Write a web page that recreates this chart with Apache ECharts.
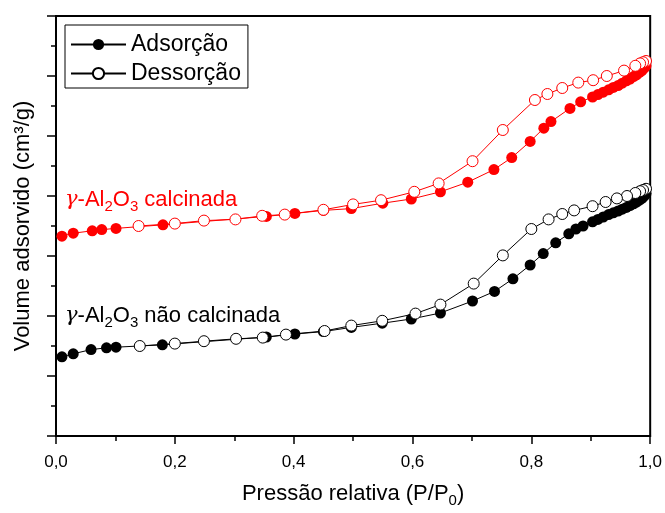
<!DOCTYPE html>
<html>
<head>
<meta charset="utf-8">
<script src="https://cdn.jsdelivr.net/npm/echarts@6/dist/echarts.min.js"></script>
<style>
  html, body { margin: 0; padding: 0; background: #fff; }
  #chart { width: 665px; height: 513px; }
</style>
</head>
<body>
<div id="chart"></div>
<script>
// N2 isotherms of gamma-alumina, calcined (red) and non-calcined (black)
// Relative pressure P/P0 and adsorbed volume (cm3/g)

const calcAdsP = [0.010, 0.029, 0.061, 0.077, 0.101, 0.180, 0.354, 0.402, 0.450, 0.497, 0.550, 0.598, 0.647, 0.693, 0.737, 0.767, 0.798, 0.821, 0.833, 0.865, 0.883, 0.903, 0.912, 0.921, 0.930, 0.938, 0.946, 0.953, 0.960, 0.966, 0.972, 0.977, 0.982, 0.986, 0.990, 0.993];
const calcAdsV = [166.5, 169, 171, 172, 173, 176, 183, 185.5, 188, 189.5, 194, 197.5, 203.5, 211.5, 222, 232, 245.5, 256.5, 262, 273, 278.5, 282.5, 284.5, 286.5, 288.5, 290.5, 292, 294, 296, 297.5, 299.5, 301, 303, 304.5, 306.5, 308.5];

const calcDesP = [0.993, 0.988, 0.983, 0.975, 0.956, 0.927, 0.904, 0.879, 0.852, 0.827, 0.806, 0.752, 0.701, 0.644, 0.603, 0.547, 0.500, 0.450, 0.385, 0.347, 0.302, 0.249, 0.200, 0.139];
const calcDesV = [312.5, 311.5, 310.5, 308.5, 304.5, 300, 296.5, 294.5, 290, 285, 280, 255, 229, 210.5, 203.5, 196.5, 193, 188.5, 184.5, 183.5, 180.5, 179.5, 177, 175];

const rawAdsP = [0.010, 0.029, 0.059, 0.085, 0.101, 0.179, 0.354, 0.402, 0.450, 0.497, 0.549, 0.598, 0.647, 0.701, 0.738, 0.769, 0.798, 0.820, 0.841, 0.863, 0.875, 0.887, 0.903, 0.912, 0.921, 0.930, 0.938, 0.946, 0.953, 0.960, 0.966, 0.972, 0.977, 0.982, 0.986, 0.990, 0.993];
const rawAdsV = [66, 68.5, 72, 73.5, 74, 76, 82.5, 85, 87, 90.5, 94, 97.5, 102.5, 112.5, 120.5, 131, 142.5, 152, 161, 168.5, 172.5, 175, 178.5, 180.5, 182.5, 184.5, 186, 187.5, 189, 190.5, 192, 193.5, 195, 196.5, 198, 200, 202];

const rawDesP = [0.993, 0.988, 0.983, 0.975, 0.961, 0.944, 0.925, 0.903, 0.872, 0.852, 0.829, 0.800, 0.752, 0.703, 0.647, 0.605, 0.549, 0.497, 0.452, 0.387, 0.348, 0.303, 0.249, 0.200, 0.141];
const rawDesV = [206, 205, 204, 202.5, 200, 198, 195, 191.5, 188, 185, 180.5, 172.5, 150.5, 127, 109.5, 102, 96, 92, 87.5, 84.5, 82, 81, 79, 77, 75];

const xTicks = [0, 0.2, 0.4, 0.6, 0.8, 1.0];

const zip = (p, v) => p.map((x, i) => [x, v[i]]);
const FONT = '"Liberation Sans", Arial, sans-serif';
const NARROW = '"Liberation Sans Narrow", "Liberation Sans", Arial, sans-serif';

function isoSeries(name, data, color, open) {
  return {
    name: name,
    type: 'line',
    data: data,
    symbol: 'circle',
    symbolSize: 11,
    showSymbol: true,
    z: open ? 3 : 2,
    lineStyle: { color: color, width: 1 },
    itemStyle: open
      ? { color: '#fff', borderColor: color, borderWidth: 1 }
      : { color: color, borderColor: color, borderWidth: 0 },
    emphasis: { disabled: true },
    legendHoverLink: false
  };
}

function labelText(top, rest, color) {
  return {
    type: 'text', left: 65, top: top, z: 10,
    style: {
      text: '{g|γ}-Al{s|2}O{s|3} ' + rest,
      fill: color, fontFamily: FONT, fontSize: 22,
      rich: {
        g: { fontFamily: '"DejaVu Serif", serif', fontStyle: 'italic', fontSize: 21, fill: color },
        s: { fontFamily: FONT, fontSize: 15, fill: color, padding: [13, 0, 0, 0] }
      }
    }
  };
}

const chart = echarts.init(document.getElementById('chart'), null, { renderer: 'canvas' });

chart.setOption({
  animation: false,
  backgroundColor: '#fff',
  grid: {
    left: 56, right: 14, top: 16, bottom: 70,
    show: true, borderColor: '#000', borderWidth: 2, backgroundColor: 'transparent'
  },
  legend: {
    data: ['Adsorção', 'Dessorção'],
    orient: 'vertical',
    left: 65, top: 25,
    backgroundColor: '#fff',
    borderColor: '#000', borderWidth: 1, borderRadius: 0,
    padding: [8, 7, 3, 5],
    itemWidth: 55, itemHeight: 14, itemGap: 6,
    selectedMode: false,
    textStyle: { fontFamily: FONT, fontSize: 23, color: '#000', lineHeight: 21 }
  },
  xAxis: {
    type: 'value',
    min: 0, max: 1, interval: 0.2,
    name: 'Pressão relativa (P/P{s|0})',
    nameLocation: 'middle', nameGap: 44,
    nameTextStyle: {
      fontFamily: NARROW, fontSize: 22, color: '#000',
      rich: { s: { fontFamily: NARROW, fontSize: 15, color: '#000', padding: [13, 0, 0, 0] } }
    },
    axisLine: { onZero: false, lineStyle: { color: '#000', width: 2 } },
    axisTick: { inside: false, length: 8, lineStyle: { color: '#000', width: 1.5 } },
    minorTick: { show: true, splitNumber: 2, length: 5, lineStyle: { color: '#000', width: 1.5 } },
    splitLine: { show: false },
    axisLabel: {
      margin: 18, fontFamily: NARROW, fontSize: 17, color: '#000',
      formatter: v => xTicks.some(t => Math.abs(t - v) < 1e-9) ? v.toFixed(1).replace('.', ',') : ''
    }
  },
  yAxis: {
    type: 'value',
    min: 0, max: 350, interval: 50,
    name: 'Volume adsorvido (cm³/g)',
    nameLocation: 'middle', nameGap: 22,
    nameTextStyle: { fontFamily: FONT, fontSize: 22, color: '#000' },
    axisLine: { onZero: false, lineStyle: { color: '#000', width: 2 } },
    axisTick: { inside: false, length: 9, lineStyle: { color: '#000', width: 1.5 } },
    minorTick: { show: true, splitNumber: 2, length: 5, lineStyle: { color: '#000', width: 1.5 } },
    splitLine: { show: false },
    axisLabel: { show: false }
  },
  graphic: [
    labelText(189, 'calcinada', '#ff0000'),
    labelText(305, 'não calcinada', '#000')
  ],
  series: [
    isoSeries('calcinada-ads', zip(calcAdsP, calcAdsV), '#ff0000', false),
    isoSeries('calcinada-des', zip(calcDesP, calcDesV), '#ff0000', true),
    isoSeries('nao-calcinada-ads', zip(rawAdsP, rawAdsV), '#000', false),
    isoSeries('nao-calcinada-des', zip(rawDesP, rawDesV), '#000', true),
    Object.assign(isoSeries('Adsorção', [], '#000', false), { silent: true }),
    Object.assign(isoSeries('Dessorção', [], '#000', true), { silent: true })
  ]
});
</script>
</body>
</html>
